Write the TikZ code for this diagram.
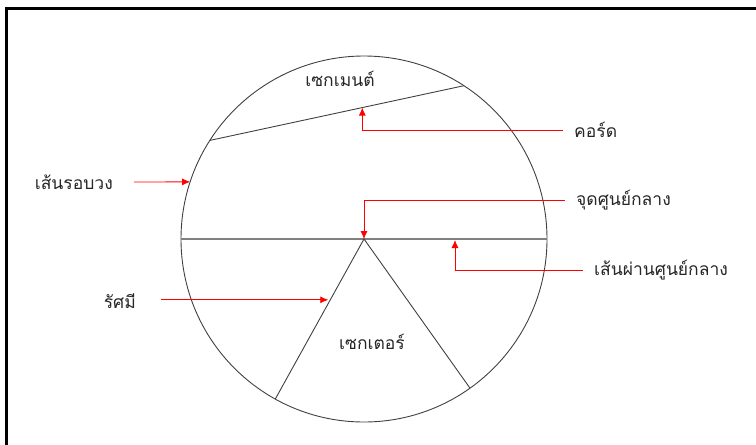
\documentclass[tikz,border=0pt]{standalone}
\usepackage{fontspec}
\newfontfamily\thaifont[Script=Thai]{Loma}
\usetikzlibrary{calc,arrows.meta}

\tikzset{
  etiqueta/.style={font=\thaifont\fontsize{17.5}{19}\selectfont, text=black!85, inner sep=1pt},
  flecha/.style={-{Latex[length=8pt,width=7pt]}, red, line width=0.8pt, shorten <=10pt},
  linea/.style={black!75, line width=0.9pt}
}

\begin{document}
\begin{tikzpicture}[x=1pt, y=-1pt]
    \useasboundingbox (0,0) rectangle (756,445);

    % Marco
    \draw[line width=3pt] (6.5,445) -- (6.5,8.5) -- (756,8.5);

    % Circulo
    \coordinate (O) at (364,239);
    \draw[linea] (O) circle (183pt);

    % Diametro
    \coordinate (D1) at ($(O)+(180:183pt)$);
    \coordinate (D2) at ($(O)+(0:183pt)$);
    \draw[black!50, line width=1.8pt] (D1) -- (D2);

    % Cuerda
    \coordinate (C1) at ($(O)+(147.4:183pt)$);
    \coordinate (C2) at ($(O)+(56.9:183pt)$);
    \draw[linea] (C1) -- (C2);

    % Sector
    \coordinate (S1) at ($(O)+(241:183pt)$);
    \coordinate (S2) at ($(O)+(305.4:183pt)$);
    \draw[linea] (S1) -- (O) -- (S2);

    % Puntos de llegada
    \coordinate (Pc) at ($(C1)!0.6!(C2)$);
    \coordinate (Pd) at (455,240);
    \coordinate (Pr) at ($(O)+(161.8:183pt)$);
    \coordinate (Ps) at ($(O)!0.38!(S1)$);

    % Etiquetas
    \node[etiqueta] (segmento) at (340,79) {เซกเมนต์};
    \node[etiqueta] (sector) at (372,342) {เซกเตอร์};
    \node[etiqueta, anchor=west] (cuerda) at (573,130) {คอร์ด};
    \node[etiqueta, anchor=west] (centro) at (575,200) {จุดศูนย์กลาง};
    \node[etiqueta, anchor=west] (diametro) at (593,270) {เส้นผ่านศูนย์กลาง};
    \node[etiqueta, anchor=east] (circunf) at (114,182) {เส้นรอบวง};
    \node[etiqueta, anchor=east] (radio) at (137,301) {รัศมี};

    % Flechas
    \draw[flecha] (cuerda.west) -| (Pc);
    \draw[flecha] (centro.west) -| (O);
    \draw[flecha] (diametro.west) -| (Pd);
    \draw[flecha, shorten <=20pt] (circunf.east) -- (Pr);
    \draw[flecha, shorten <=24pt, shorten >=2pt] (radio.east |- Ps) -- (Ps);
\end{tikzpicture}
\end{document}
